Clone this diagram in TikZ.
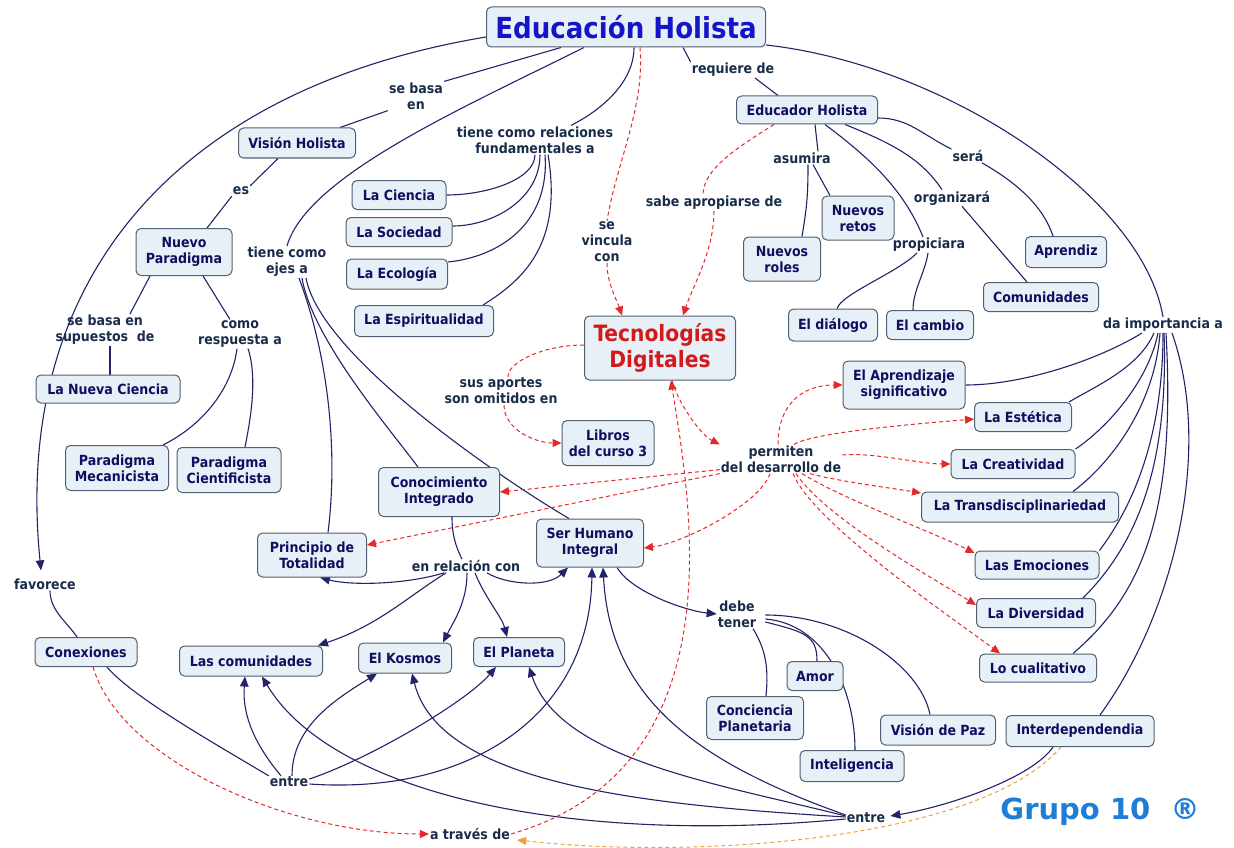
\documentclass[tikz,border=0pt]{standalone}
\usepackage{fontspec}
\setmainfont{DejaVu Sans Condensed}
\newfontfamily\grupofont{DejaVu Sans}
\usetikzlibrary{arrows.meta,backgrounds}
\definecolor{navy}{RGB}{35,35,105}
\definecolor{boxfill}{RGB}{232,240,247}
\definecolor{boxborder}{RGB}{80,96,112}
\definecolor{boxtext}{RGB}{15,15,95}
\definecolor{lbltext}{RGB}{25,45,75}
\definecolor{ehblue}{RGB}{20,20,200}
\definecolor{tdred}{RGB}{210,26,26}
\definecolor{redd}{RGB}{228,40,40}
\definecolor{orangd}{RGB}{240,160,64}
\definecolor{grupoc}{RGB}{30,125,215}
\tikzset{
  box/.style={draw=boxborder, fill=boxfill, rounded corners=5pt, line width=1pt,
    text=boxtext, font=\fontsize{14}{16}\selectfont\bfseries, align=center, inner sep=2pt},
  bx/.style 2 args={box, minimum width=#1, minimum height=#2},
  lbl/.style={text=lbltext, font=\fontsize{14}{16}\selectfont\bfseries, align=center, inner sep=1pt},
  conn/.style={draw=navy, line width=1.1pt},
  arr/.style={conn, -{Triangle[length=10pt,width=8.5pt]}},
  rdl/.style={draw=redd, line width=1pt, dash pattern=on 4pt off 3pt},
  rda/.style={rdl, -{Triangle[length=9pt,width=8pt]}},
  oda/.style={draw=orangd, line width=1pt, dash pattern=on 4pt off 3pt, -{Triangle[length=9pt,width=8pt]}},
}
\begin{document}
\begin{tikzpicture}[x=1pt,y=-1pt]
\useasboundingbox (0,0) rectangle (1234,848);
% ---------- boxes ----------
\node[bx={279pt}{40pt}, font=\fontsize{29}{32}\selectfont\bfseries, text=ehblue] (eh) at (626,27) {Educación Holista};
\node[bx={117pt}{30pt}] (vh) at (297,143) {Visión Holista};
\node[bx={96pt}{47pt}] (np) at (184,252) {Nuevo\\Paradigma};
\node[bx={94pt}{29pt}] (lci) at (399,195) {La Ciencia};
\node[bx={106pt}{29pt}] (lso) at (399,232) {La Sociedad};
\node[bx={101pt}{30pt}] (lec) at (397,274) {La Ecología};
\node[bx={139pt}{31pt}] (espir) at (424,321) {La Espiritualidad};
\node[bx={144pt}{28pt}] (lnc) at (108,389) {La Nueva Ciencia};
\node[bx={103pt}{45pt}] (pm) at (117,468) {Paradigma\\Mecanicista};
\node[bx={104pt}{45pt}] (pc) at (229,470) {Paradigma\\Cientificista};
\node[bx={92pt}{45pt}] (lib) at (608,443) {Libros\\del curso 3};
\node[bx={151pt}{64pt}, font=\fontsize{22.5}{26}\selectfont\bfseries, text=tdred] (td) at (660,348) {Tecnologías\\Digitales};
\node[bx={121pt}{49pt}] (ci) at (439,492) {Conocimiento\\Integrado};
\node[bx={109pt}{44pt}] (pt) at (312,555) {Principio de\\Totalidad};
\node[bx={107pt}{48pt}] (shi) at (590,543) {Ser Humano\\Integral};
\node[bx={141pt}{28pt}] (edu) at (807,110) {Educador Holista};
\node[bx={72pt}{44pt}] (nret) at (858,218) {Nuevos\\retos};
\node[bx={77pt}{44pt}] (nrol) at (782,259) {Nuevos\\roles};
\node[bx={81pt}{31pt}] (apz) at (1066,252) {Aprendiz};
\node[bx={115pt}{29pt}] (com) at (1041,297) {Comunidades};
\node[bx={89pt}{32pt}] (dia) at (833,325) {El diálogo};
\node[bx={87pt}{29pt}] (cam) at (930,325) {El cambio};
\node[bx={122pt}{48pt}] (aps) at (904,385) {El Aprendizaje\\significativo};
\node[bx={97pt}{29pt}] (est) at (1023,417) {La Estética};
\node[bx={124pt}{29pt}] (cre) at (1013,464) {La Creatividad};
\node[bx={197pt}{30pt}] (tra) at (1020,507) {La Transdisciplinariedad};
\node[bx={124pt}{28pt}] (emo) at (1037,565) {Las Emociones};
\node[bx={119pt}{29pt}] (div) at (1036,613) {La Diversidad};
\node[bx={117pt}{28pt}] (cua) at (1038,668) {Lo cualitativo};
\node[bx={56pt}{29pt}] (amor) at (815,676) {Amor};
\node[bx={97pt}{43pt}] (cpl) at (755,718) {Conciencia\\Planetaria};
\node[bx={115pt}{30pt}] (vpz) at (938,730) {Visión de Paz};
\node[bx={148pt}{31pt}] (itd) at (1080,731) {Interdependendia};
\node[bx={104pt}{31pt}] (itg) at (852,766) {Inteligencia};
\node[bx={102pt}{29pt}] (con) at (86,652) {Conexiones};
\node[bx={143pt}{30pt}] (lcm) at (251,661) {Las comunidades};
\node[bx={93pt}{30pt}] (kos) at (405,658) {El Kosmos};
\node[bx={91pt}{29pt}] (pla) at (519,652) {El Planeta};
% ---------- labels ----------
\node[lbl] (lbasa) at (416,96) {se basa\\en};
\node[lbl] (les) at (241,191) {es};
\node[lbl] (ltcr) at (535,140) {tiene como relaciones\\fundamentales a};
\node[lbl] (ltce) at (287,262) {tiene como\\ejes a};
\node[lbl] (lreq) at (733,70) {requiere de};
\node[lbl] (lasu) at (802,158) {asumira};
\node[lbl] (lser) at (968,156) {será};
\node[lbl] (lsabe) at (714,203) {sabe apropiarse de};
\node[lbl] (lorg) at (952,198) {organizará};
\node[lbl] (lpro) at (929,245) {propiciara};
\node[lbl] (lvin) at (607,242) {se\\vincula\\con};
\node[lbl] (ldai) at (1163,325) {da importancia a};
\node[lbl] (lsup) at (105,330) {se basa en\\supuestos~~de};
\node[lbl] (lcomo) at (240,334) {como\\respuesta a};
\node[lbl] (lsus) at (501,391) {sus aportes\\son omitidos en};
\node[lbl] (lper) at (781,459) {permiten\\del desarrollo de};
\node[lbl] (lerc) at (466,566) {en relación con};
\node[lbl] (lfav) at (45,584) {favorece};
\node[lbl] (ldeb) at (737,614) {debe\\tener};
\node[lbl] (lentA) at (289,782) {entre};
\node[lbl] (lentB) at (866,818) {entre};
\node[lbl] (latr) at (470,834) {a través de};
\node[font=\grupofont\fontsize{29}{32}\selectfont\bfseries, text=grupoc] (grupo) at (1100,812) {Grupo 10~~®};
% ---------- connectors ----------
\begin{scope}[on background layer]
\fill[white] (0,0) rectangle (1234,848);
% left / top
\draw[conn] ([xshift=-65pt]eh.south) -- (lbasa.north east);
\draw[conn] (lbasa.south west) -- ([xshift=43pt]vh.north);
\draw[conn] ([xshift=-19pt]vh.south) -- (les.north east);
\draw[conn] (les.south west) -- ([xshift=23pt]np.north);
\draw[conn] ([xshift=-34pt]np.south) -- ([xshift=25pt]lsup.north);
\draw[conn] ([xshift=5pt]lsup.south) -- ([xshift=2pt]lnc.north);
\draw[conn] ([xshift=19pt]np.south) -- ([xshift=-10pt]lcomo.north);
\draw[conn] ([xshift=-3pt]lcomo.south) .. controls +(-5,40) and +(40,-20) .. ([xshift=-6pt]pm.north east);
\draw[conn] ([xshift=8pt]lcomo.south) .. controls +(10,30) and +(5,-25) .. ([xshift=16pt]pc.north);
\draw[conn] ([xshift=-42pt]eh.south) .. controls +(-120,60) and +(20,-70) .. (ltce.north);
\draw[conn] ([xshift=8pt]eh.south) .. controls +(0,35) and +(30,-15) .. ([xshift=36pt]ltcr.north);
\draw[conn] (ltcr.south) .. controls +(0,25) and +(40,0) .. (lci.east);
\draw[conn] ([xshift=5pt]ltcr.south) .. controls +(0,45) and +(40,0) .. ([yshift=6pt]lso.east);
\draw[conn] ([xshift=10pt]ltcr.south) .. controls +(5,70) and +(50,-5) .. ([yshift=12pt]lec.east);
\draw[conn] ([xshift=13pt]ltcr.south) .. controls +(15,90) and +(40,-25) .. ([xshift=59pt]espir.north);
% educador
\draw[conn] ([xshift=57pt]eh.south) -- (lreq.north west);
\draw[conn] ([xshift=22pt]lreq.south) -- ([xshift=-29pt]edu.north);
\draw[conn] ([yshift=-18pt]eh.east) .. controls +(180,20) and +(-20,-120) .. (ldai.north);
\draw[conn] ([xshift=8pt]edu.south) -- ([xshift=16pt]lasu.north);
\draw[conn] ([xshift=6pt]lasu.south) .. controls +(0,30) and +(5,-30) .. ([xshift=20pt]nrol.north);
\draw[conn] ([xshift=11pt]lasu.south) -- ([xshift=-28pt]nret.north);
\draw[conn] ([xshift=18pt]edu.south) .. controls +(40,30) and +(-20,-50) .. ([xshift=-6pt]lpro.north);
\draw[conn] ([xshift=-12pt]lpro.south) .. controls +(-20,20) and +(5,-15) .. ([xshift=4pt]dia.north);
\draw[conn] ([xshift=-1pt]lpro.south) .. controls +(-3,20) and +(0,-20) .. ([xshift=-17pt]cam.north);
\draw[conn] ([xshift=38pt]edu.south) .. controls +(50,20) and +(-20,-30) .. ([xshift=-10pt]lorg.north);
\draw[conn] ([xshift=10pt]lorg.south) -- ([xshift=-14pt]com.north);
\draw[conn] ([yshift=-8pt]edu.east) .. controls +(30,0) and +(-30,-15) .. (lser.north west);
\draw[conn] ([xshift=14pt]lser.south) .. controls +(35,20) and +(-10,-30) .. ([xshift=-13pt]apz.north);
% da importancia a
\draw[conn] ([xshift=-21pt]ldai.south) .. controls +(-40,25) and +(60,0) .. (aps.east);
\draw[conn] ([xshift=-9pt]ldai.south) .. controls +(-15,35) and +(25,-15) .. ([xshift=-3pt]est.north east);
\draw[conn] ([xshift=-5pt]ldai.south) .. controls +(-10,50) and +(30,-20) .. (cre.north east);
\draw[conn] ([xshift=-3pt]ldai.south) .. controls +(-5,70) and +(40,-30) .. ([xshift=53pt]tra.north);
\draw[conn] (ldai.south) .. controls +(0,110) and +(30,-40) .. (emo.north east);
\draw[conn] ([xshift=1pt]ldai.south) .. controls +(5,140) and +(50,-50) .. ([xshift=47pt]div.north);
\draw[conn] ([xshift=3pt]ldai.south) .. controls +(10,180) and +(70,-60) .. ([xshift=35pt]cua.north);
\draw[conn] ([xshift=9pt]ldai.south) .. controls +(43,123) and +(70,-96) .. ([xshift=20pt]itd.north);
% favorece
\draw[arr] ([yshift=-10pt]eh.west) .. controls +(-300,50) and +(-30,-300) .. ([xshift=-4pt,yshift=7pt]lfav.north);
\draw[conn] ([xshift=5pt]lfav.south) .. controls +(0,20) and +(-10,-15) .. ([xshift=-9pt]con.north);
% ejes
\draw[conn] ([xshift=12pt]ltce.south) .. controls +(30,80) and +(10,-80) .. ([xshift=16pt]pt.north);
\draw[conn] ([xshift=15pt]ltce.south) .. controls +(10,60) and +(-30,-40) .. ([xshift=-21pt]ci.north);
\draw[conn] ([xshift=19pt]ltce.south) .. controls +(15,80) and +(-60,-35) .. ([xshift=-21pt]shi.north);
% en relacion con
\draw[conn] ([xshift=13pt]ci.south) .. controls +(0,20) and +(-5,-10) .. ([xshift=-4pt]lerc.north);
\draw[arr] ([xshift=-22pt]lerc.south) .. controls +(-40,12) and +(30,8) .. ([xshift=8pt]pt.south);
\draw[arr] ([xshift=-20pt]lerc.south) .. controls +(-40,25) and +(60,-20) .. ([xshift=67pt]lcm.north);
\draw[arr] ([xshift=1pt]lerc.south) .. controls +(0,30) and +(10,-20) .. ([xshift=38pt]kos.north);
\draw[arr] ([xshift=9pt]lerc.south) .. controls +(10,25) and +(-5,-20) .. ([xshift=-12pt]pla.north);
\draw[arr] ([xshift=21pt]lerc.south) .. controls +(20,12) and +(-20,20) .. ([xshift=-22pt]shi.south);
% debe tener
\draw[arr] ([xshift=27pt]shi.south) .. controls +(15,25) and +(-30,-3) .. (ldeb.west);
\draw[conn] ([xshift=16pt]ldeb.south) .. controls +(12,20) and +(3,-30) .. ([xshift=11pt]cpl.north);
\draw[conn] ([xshift=8pt,yshift=-8pt]ldeb.east) .. controls +(40,10) and +(0,-25) .. ([xshift=2pt]amor.north);
\draw[conn] ([xshift=8pt,yshift=-5pt]ldeb.east) .. controls +(60,5) and +(0,-60) .. ([xshift=3pt]itg.north);
\draw[conn] ([xshift=8pt,yshift=-1pt]ldeb.east) .. controls +(80,0) and +(-10,-50) .. ([xshift=-8pt]vpz.north);
% entre (left)
\draw[conn] ([xshift=21pt]con.south) .. controls +(25,30) and +(-50,-30) .. (lentA.north west);
\draw[arr] ([xshift=-8pt]lentA.north) .. controls +(-25,-30) and +(-3,40) .. ([xshift=-6pt]lcm.south);
\draw[arr] ([xshift=3pt]lentA.north) .. controls +(0,-50) and +(-40,25) .. ([xshift=-28pt]kos.south);
\draw[arr] ([yshift=3pt]lentA.east) .. controls +(60,-20) and +(-30,35) .. ([xshift=-23pt]pla.south);
\draw[arr] ([yshift=-2pt]lentA.east) .. controls +(158,11) and +(-2,150) .. ([xshift=2pt]shi.south);
% entre (right)
\draw[arr] ([yshift=-1pt]lentB.west) .. controls +(-286,27) and +(68,114) .. ([xshift=11pt]lcm.south);
\draw[arr] ([yshift=1pt]lentB.west) .. controls +(-196,-12) and +(28,112) .. ([xshift=7pt]kos.south);
\draw[arr] ([yshift=2pt]lentB.west) .. controls +(-126,-32) and +(31,93) .. ([xshift=10pt]pla.south);
\draw[arr] ([yshift=3pt]lentB.west) .. controls +(-146,-52) and +(7,133) .. ([xshift=13pt]shi.south);
\draw[arr] ([xshift=-27pt]itd.south) .. controls +(-20,30) and +(60,-10) .. ([xshift=4pt,yshift=2pt]lentB.east);
% red dashed
\draw[rdl] ([xshift=14pt]eh.south) .. controls +(5,60) and +(10,-60) .. (lvin.north);
\draw[rda] (lvin.south) .. controls +(0,20) and +(-5,-15) .. ([xshift=-38pt]td.north);
\draw[rdl] ([xshift=-33pt]edu.south) .. controls +(-40,25) and +(0,-25) .. ([xshift=-11pt]lsabe.north);
\draw[rda] (lsabe.south) .. controls +(0,40) and +(10,-30) .. ([xshift=23pt]td.north);
\draw[rdl] ([yshift=3pt]td.west) .. controls +(-40,0) and +(0,-15) .. ([xshift=7pt]lsus.north);
\draw[rda] ([xshift=3pt]lsus.south) .. controls +(0,25) and +(-25,0) .. (lib.west);
\draw[rda] ([xshift=12pt]td.south) .. controls +(5,20) and +(-20,-10) .. (lper.north west);
\draw[rda] (latr.east) .. controls +(229,-66) and +(19,120) .. ([xshift=11pt]td.south);
\draw[rda] ([xshift=-3pt]lper.north) .. controls +(0,-40) and +(-40,0) .. (aps.west);
\draw[rda] ([xshift=13pt]lper.north) .. controls +(20,-12) and +(-60,5) .. ([yshift=-2pt]est.west);
\draw[rda] ([yshift=4pt]lper.east) .. controls +(30,-3) and +(-30,0) .. (cre.west);
\draw[rda] ([xshift=29pt]lper.south) .. controls +(30,8) and +(-30,-5) .. ([yshift=14pt]tra.west);
\draw[rda] ([xshift=21pt]lper.south) .. controls +(40,25) and +(-40,-20) .. ([yshift=12pt]emo.west);
\draw[rda] ([xshift=15pt]lper.south) .. controls +(30,45) and +(-40,-25) .. ([yshift=8pt]div.west);
\draw[rda] ([xshift=12pt]lper.south) .. controls +(20,50) and +(-40,-30) .. ([xshift=-38pt]cua.north);
\draw[rda] ([yshift=4pt]lper.south west) -- (ci.east);
\draw[rda] (lper.south west) -- ([yshift=10pt]pt.east);
\draw[rda] ([xshift=-11pt]lper.south) .. controls +(-10,30) and +(40,-5) .. ([yshift=-5pt]shi.east);
\draw[rda] ([xshift=7pt]con.south) .. controls +(27,92) and +(-143,0) .. (latr.west);
\draw[oda] ([xshift=-19pt]itd.south) .. controls +(-81,93) and +(183,20) .. ([xshift=6pt,yshift=-6pt]latr.east);
\end{scope}
\end{tikzpicture}
\end{document}
